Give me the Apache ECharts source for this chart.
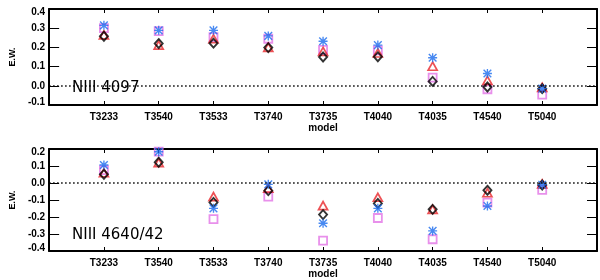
<!DOCTYPE html>
<html><head><meta charset="utf-8">
<script src="https://cdn.jsdelivr.net/npm/echarts@6/dist/echarts.min.js"></script>
<style>html,body{margin:0;padding:0;background:#fff}#c{width:600px;height:280px}</style>
</head><body><div id="c"></div>
<script>
const categories = ['', 'T3233','T3540','T3533','T3740','T3735','T4040','T4035','T4540','T5040', ''];
const models = categories.slice(1, 10);
const yTicksTop = [-0.1, 0.0, 0.1, 0.2, 0.3, 0.4];
const yTicksBottom = [-0.4, -0.3, -0.2, -0.1, 0.0, 0.1, 0.2];
// NIII 4097
const asterisk4097 = [0.315, 0.289, 0.289, 0.260, 0.232, 0.212, 0.146, 0.064, -0.015];
const square4097   = [0.300, 0.285, 0.253, 0.245, 0.187, 0.184, 0.043, -0.018, -0.046];
const triangle4097 = [0.265, 0.212, 0.245, 0.200, 0.179, 0.171, 0.102, 0.028, -0.008];
const diamond4097  = [0.258, 0.220, 0.222, 0.199, 0.150, 0.151, 0.023, -0.006, -0.015];
// NIII 4640/42
const asterisk4640 = [0.106, 0.184, -0.149, -0.008, -0.237, -0.149, -0.282, -0.135, -0.010];
const square4640   = [0.076, 0.185, -0.212, -0.080, -0.339, -0.206, -0.331, -0.116, -0.041];
const triangle4640 = [0.060, 0.120, -0.080, -0.030, -0.133, -0.084, -0.155, -0.057, -0.005];
const diamond4640  = [0.051, 0.122, -0.114, -0.045, -0.186, -0.120, -0.155, -0.043, -0.012];

const starPath = 'path://M0 8.5H20V11.5H0Z M8.5 0H11.5V20H8.5Z M2.6 0.4L19.6 17.4L17.4 19.6L0.4 2.6Z M19.6 2.6L2.6 19.6L0.4 17.4L17.4 0.4Z';
const pair = arr => arr.map((v, i) => [models[i], v]);
const FONT = 'Liberation Sans';
const lbl = {color:'#000', fontFamily:FONT, fontWeight:'bold', fontSize:10};

function xAxes(gi) {
  return [
    {type:'category', gridIndex:gi, data:categories, boundaryGap:false, position:'bottom',
     axisLine:{onZero:false, lineStyle:{color:'#000', width:2}},
     axisTick:{inside:true, length:4, interval:0, lineStyle:{color:'#000'}},
     axisLabel:Object.assign({interval:0, margin:7}, lbl),
     name:'model', nameLocation:'middle', nameGap:18,
     nameTextStyle:{color:'#000', fontFamily:FONT, fontWeight:'bold', fontSize:10},
     splitLine:{show:false}},
    {type:'category', gridIndex:gi, data:categories, boundaryGap:false, position:'top',
     axisLine:{onZero:false, lineStyle:{color:'#000', width:2}},
     axisTick:{inside:true, length:4, interval:0, lineStyle:{color:'#000'}},
     axisLabel:{show:false}, splitLine:{show:false}}
  ];
}
function yAxes(gi, min, max, ticks) {
  return [
    {type:'value', gridIndex:gi, min:min, max:max, interval:0.1, position:'left',
     axisLine:{show:true, onZero:false, lineStyle:{color:'#000', width:2}},
     axisTick:{show:true, inside:true, length:10, lineStyle:{color:'#000'}},
     axisLabel:Object.assign({margin:4, formatter: v => {
        const t = ticks.find(k => Math.abs(k - v) < 1e-6);
        if (t === undefined) return '';
        const s = t.toFixed(1).replace('-0.0','0.0');
        if (Math.abs(t - max) < 1e-6) return '{g1|}\n{v|' + s + '}';
        if (Math.abs(t - min) < 1e-6) return '{v|' + s + '}\n{g2|}';
        return s; },
        rich:{v:Object.assign({lineHeight:12}, lbl), g1:{lineHeight:7, fontSize:6}, g2:{lineHeight:5, fontSize:4}}}, lbl),
     splitLine:{show:false},
     name:'E.W.', nameLocation:'middle', nameGap:31, nameRotate:90,
     nameTextStyle:{color:'#000', fontFamily:FONT, fontWeight:'bold', fontSize:9}},
    {type:'value', gridIndex:gi, min:min, max:max, interval:0.1, position:'right',
     axisLine:{show:true, onZero:false, lineStyle:{color:'#000', width:2}},
     axisTick:{show:true, inside:true, length:10, lineStyle:{color:'#000'}},
     axisLabel:{show:false}, splitLine:{show:false}}
  ];
}
function seriesFor(gi, sq, tr, di, st) {
  const base = {type:'scatter', xAxisIndex:gi*2, yAxisIndex:gi*2, silent:true, z:2};
  return [
    Object.assign({}, base, {name:'square', data:pair(sq), symbol:'rect', symbolSize:8,
      itemStyle:{color:'rgba(0,0,0,0)', borderColor:'#E274E6', borderWidth:1.8},
      markLine:{silent:true, symbol:'none', label:{show:false},
        lineStyle:{color:'#000', type:[1.5,2.5], width:1.5}, data:[{yAxis:0}]}}),
    Object.assign({}, base, {name:'triangle', data:pair(tr), symbol:'triangle', symbolSize:[9,8],
      itemStyle:{color:'rgba(0,0,0,0)', borderColor:'#E8262B', borderWidth:1.7}}),
    Object.assign({}, base, {name:'diamond', data:pair(di), symbol:'diamond', symbolSize:[8,9],
      itemStyle:{color:'rgba(0,0,0,0)', borderColor:'#000', borderWidth:1.9}}),
    Object.assign({}, base, {name:'asterisk', data:pair(st), symbol:starPath, symbolSize:9,
      itemStyle:{color:'#1A6CEE'}})
  ];
}
const chart = echarts.init(document.getElementById('c'), null, {renderer:'canvas'});
chart.setOption({
  animation:false,
  backgroundColor:'#fff',
  grid:[{left:45, right:3, top:3, height:102}, {left:45, right:3, top:149, height:102}],
  xAxis:[...xAxes(0), ...xAxes(1)],
  yAxis:[...yAxes(0, -0.1, 0.4, yTicksTop), ...yAxes(1, -0.4, 0.2, yTicksBottom)],
  series:[...seriesFor(0, square4097, triangle4097, diamond4097, asterisk4097),
          ...seriesFor(1, square4640, triangle4640, diamond4640, asterisk4640)],
  graphic:[
    {type:'text', left:72, top:81, style:{text:'NIII 4097', fill:'#000', font:'15px "DejaVu Sans"'}},
    {type:'text', left:72, top:228, style:{text:'NIII 4640/42', fill:'#000', font:'15px "DejaVu Sans"'}}
  ]
});
</script></body></html>
